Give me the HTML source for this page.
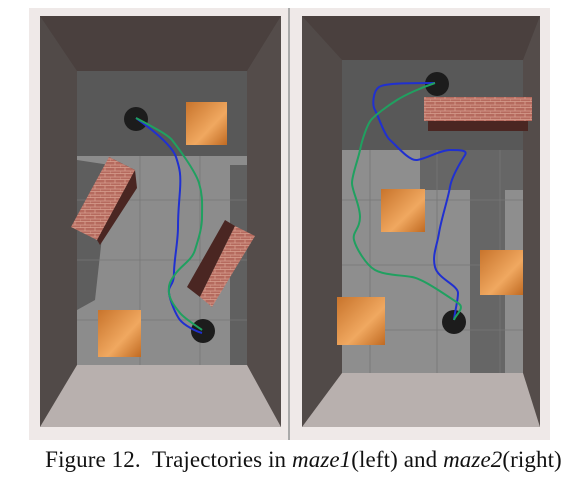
<!DOCTYPE html>
<html><head><meta charset="utf-8"><style>
html,body{margin:0;padding:0;background:#fff;width:579px;height:490px;overflow:hidden}
svg{position:absolute;left:0;top:0}
.cap{position:absolute;left:14px;width:579px;top:447px;text-align:center;font-family:"Liberation Serif",serif;font-size:23px;color:#111;white-space:nowrap;letter-spacing:0.1px}
</style></head><body>
<svg width="579" height="490">
<defs>
<linearGradient id="box" x1="0" y1="0" x2="1" y2="1"><stop offset="0" stop-color="#c8742c"/><stop offset="0.6" stop-color="#f0a860"/><stop offset="1" stop-color="#c06a22"/></linearGradient>
<pattern id="brick" width="10" height="6" patternUnits="userSpaceOnUse"><rect width="10" height="6" fill="#b56a5e"/><path d="M0 5.5H10M5 0V3M0 3H10M0 3V6" stroke="#d8a090" stroke-width="0.8"/></pattern>
</defs>
<rect x="29" y="8" width="521" height="432" fill="#efe9e8"/>
<g>
<rect x="40" y="16" width="241" height="411" fill="#4b4442"/>
<polygon points="40,16 281,16 247,71 77,71" fill="#4a403e"/>
<polygon points="40,16 77,71 77,365 40,427" fill="#514a48"/>
<polygon points="281,16 247,71 247,365 281,427" fill="#544c4a"/>
<rect x="77" y="71" width="170" height="294" fill="#8c8c8c"/>
<rect x="77" y="71" width="170" height="85" fill="#585858"/>
<polygon points="77,160 110,165 95,300 77,310" fill="#5e5e5e"/>
<rect x="230" y="165" width="17" height="200" fill="#606060"/>
<polygon points="40,427 281,427 247,365 77,365" fill="#b8b0ae"/>
<path d="M77 200H247M77 260H247M77 320H247M140 156V365M200 156V365" stroke="#777" stroke-width="0.8"/>
<rect x="186" y="102" width="41" height="43" fill="url(#box)"/>
<rect x="98" y="310" width="43" height="47" fill="url(#box)"/>
<polygon points="109,157 135,170 137,188 100,245 97,240" fill="#4a2622"/>
<polygon points="71,227 109,157 135,170 97,240" fill="url(#brick)"/>
<polygon points="187,287 225,220 235,226 200,297" fill="#4a2622"/>
<polygon points="200,297 235,226 255,236 212,307" fill="url(#brick)"/>
<circle cx="136" cy="119" r="12" fill="#1c1c1c"/>
<circle cx="203" cy="331" r="12" fill="#1c1c1c"/>
<path d="M136 118 C150 128,172 145,176 157 S181 175,180 190 S178 212,178 227 S174 260,174 273 S168 285,169 293 S176 315,180 320 S195 331,202 333" fill="none" stroke="#2030d0" stroke-width="2"/>
<path d="M136 118 C155 128,168 135,172 140 S195 170,199 183 S202 205,202 217 S198 240,195 250 S182 265,176 273 S168 285,169 293 S176 308,180 313 S195 325,202 330" fill="none" stroke="#20a060" stroke-width="2"/>
</g>
<rect x="288" y="8" width="2" height="432" fill="#aaa"/>
<g>
<rect x="302" y="16" width="238" height="411" fill="#4b4442"/>
<polygon points="302,16 540,16 523,60 342,60" fill="#4a403e"/>
<polygon points="302,16 342,60 342,373 302,427" fill="#514a48"/>
<polygon points="540,16 523,60 523,373 540,427" fill="#544c4a"/>
<rect x="342" y="60" width="181" height="313" fill="#8e8e8e"/>
<rect x="342" y="60" width="181" height="90" fill="#585858"/>
<polygon points="420,150 523,150 523,190 505,190 505,373 470,373 470,190 420,190" fill="#666"/>
<polygon points="302,427 540,427 523,373 342,373" fill="#b8b0ae"/>
<path d="M342 200H523M342 265H523M342 330H523M370 150V373M437 150V373M500 150V373" stroke="#777" stroke-width="0.8"/>
<rect x="424" y="97" width="108" height="24" fill="url(#brick)"/>
<rect x="428" y="121" width="100" height="10" fill="#4a2622"/>
<rect x="381" y="189" width="44" height="43" fill="url(#box)"/>
<rect x="480" y="250" width="43" height="45" fill="url(#box)"/>
<rect x="337" y="297" width="48" height="48" fill="url(#box)"/>
<circle cx="437" cy="84" r="12" fill="#1c1c1c"/>
<circle cx="454" cy="322" r="12" fill="#1c1c1c"/>
<path d="M435 83 C410 83,385 83,379 87 S372 105,375 110 S384 135,390 140 S408 160,416 160 S440 150,450 150 S468 150,465 155 S452 175,450 187 S441 220,439 233 S432 255,435 267 S458 285,458 293 S455 310,454 320" fill="none" stroke="#2030d0" stroke-width="2"/>
<path d="M435 83 C420 88,405 95,397 100 S375 115,371 120 S362 140,360 150 S352 175,352 183 S360 205,360 217 S352 232,354 240 S366 265,375 270 S400 275,412 277 S450 298,458 303 S455 315,454 320" fill="none" stroke="#20a060" stroke-width="2"/>
</g>
</svg>
<div class="cap">Figure 12.&nbsp; Trajectories in <i>maze1</i>(left) and <i>maze2</i>(right)</div>
</body></html>
